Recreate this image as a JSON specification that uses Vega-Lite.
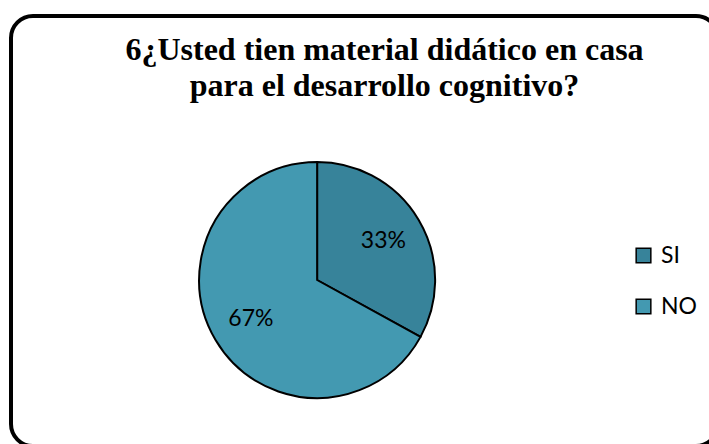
{
  "$schema": "https://vega.github.io/schema/vega-lite/v6.json",
  "width": 707,
  "height": 430,
  "autosize": {"type": "none"},
  "padding": {"left": 11, "top": 16, "right": 0, "bottom": 0},
  "background": "white",
  "view": {"stroke": "black", "strokeWidth": 4, "cornerRadius": 22, "fill": "white"},
  "title": {
    "text": ["6¿Usted tien material didático en casa", "para el desarrollo cognitivo?"],
    "font": "Liberation Serif",
    "fontSize": 32,
    "fontWeight": "bold",
    "color": "black",
    "anchor": "middle",
    "frame": "group",
    "baseline": "top",
    "offset": -87,
    "dx": 20,
    "lineHeight": 36
  },
  "data": {
    "values": [
      {"respuesta": "SI", "porcentaje": 33, "etiqueta": "33%", "orden": 1},
      {"respuesta": "NO", "porcentaje": 67, "etiqueta": "67%", "orden": 2}
    ]
  },
  "encoding": {
    "theta": {"field": "porcentaje", "type": "quantitative", "stack": true},
    "order": {"field": "orden", "type": "quantitative"}
  },
  "layer": [
    {
      "mark": {
        "type": "arc",
        "outerRadius": 118,
        "stroke": "black",
        "strokeWidth": 2,
        "x": {"expr": "width*0.433"},
        "y": {"expr": "height*0.614"}
      },
      "encoding": {
        "color": {
          "field": "respuesta",
          "type": "nominal",
          "scale": {"domain": ["SI", "NO"], "range": ["#37839A", "#4399B1"]},
          "legend": {
            "orient": "none",
            "legendX": 621,
            "legendY": 228,
            "title": null,
            "padding": 0,
            "symbolType": "square",
            "symbolSize": 215,
            "symbolStrokeColor": "black",
            "symbolStrokeWidth": 1.5,
            "labelFont": "Lato",
            "labelFontSize": 23,
            "labelColor": "black",
            "labelOffset": 6,
            "rowPadding": 27
          }
        }
      }
    },
    {
      "mark": {
        "type": "text",
        "radius": 77,
        "font": "Lato",
        "fontSize": 23,
        "color": "black",
        "x": {"expr": "width*0.433"},
        "y": {"expr": "height*0.614"}
      },
      "encoding": {
        "text": {"field": "etiqueta", "type": "nominal"}
      }
    }
  ]
}
